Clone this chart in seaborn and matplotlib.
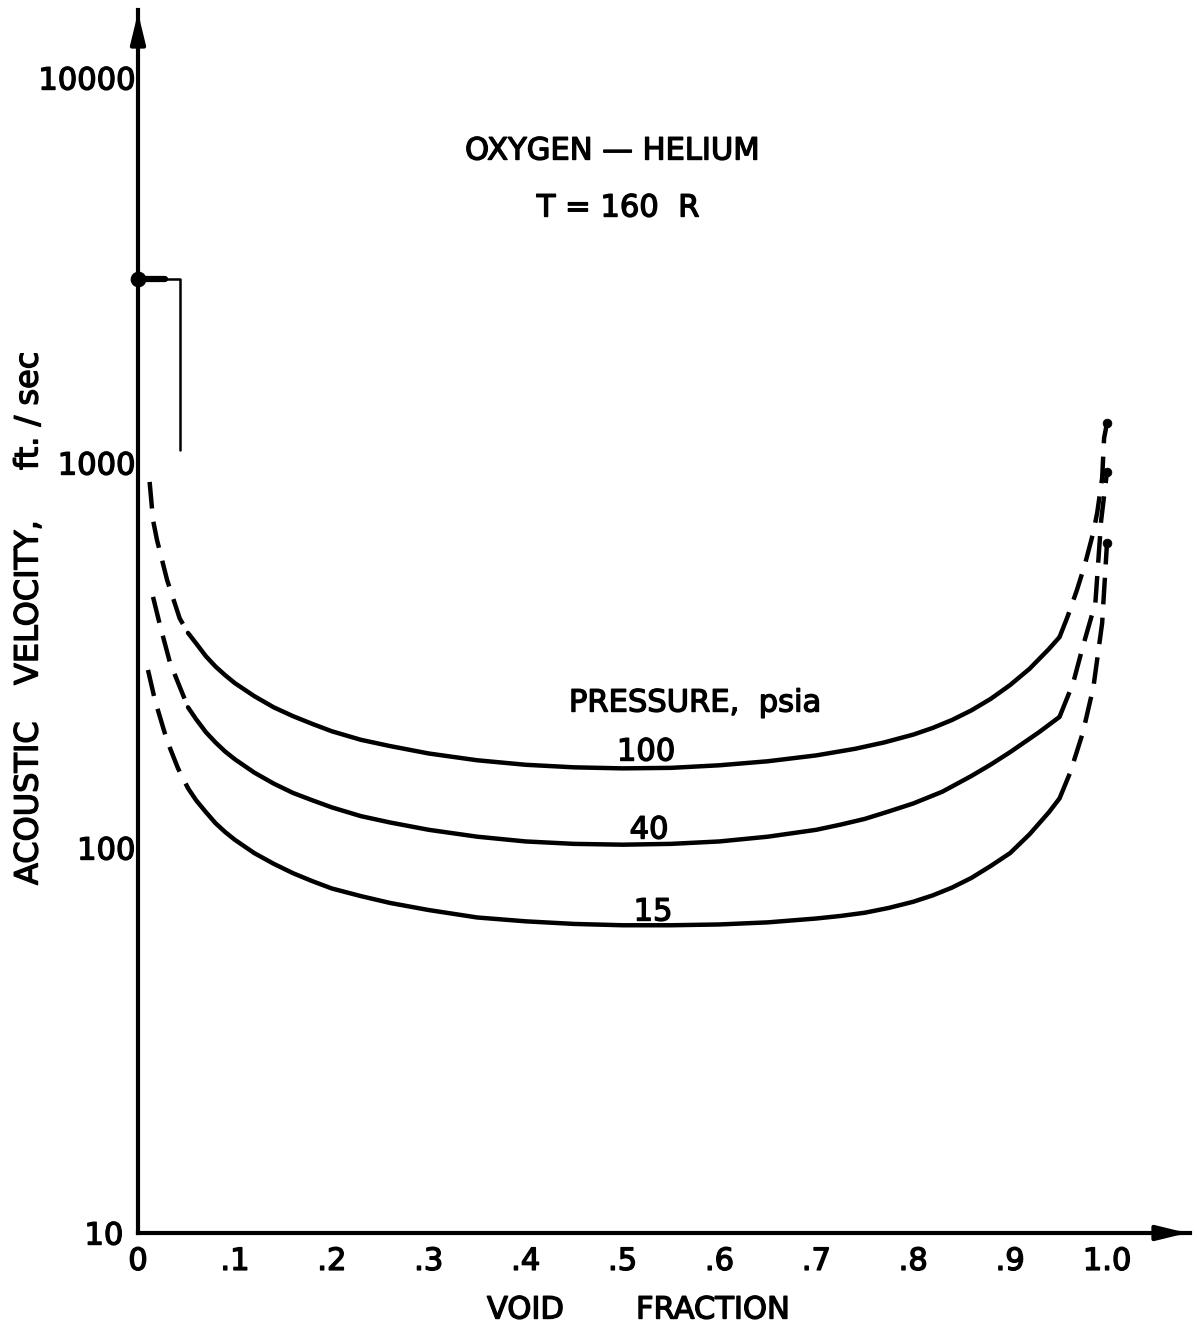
import numpy as np
import pandas as pd
import matplotlib
matplotlib.use("Agg")
import matplotlib.pyplot as plt
import matplotlib.transforms as mtransforms
import matplotlib.patheffects as pe
from matplotlib.ticker import LogLocator, NullFormatter, FixedLocator
import seaborn as sns

sns.set_style("white")
plt.rcParams["font.family"] = ["DejaVu Sans"]
plt.rcParams["text.color"] = "black"
plt.rcParams["xtick.color"] = "black"
plt.rcParams["ytick.color"] = "black"

# ---- data: acoustic velocity (ft/sec) vs void fraction, oxygen-helium, T = 160 R
pressures = ["100", "40", "15"]

void_100 = [0.012, 0.0155, 0.0196, 0.030, 0.043, 0.0516,
            0.06, 0.07, 0.08, 0.09, 0.10, 0.12, 0.14, 0.16, 0.18, 0.20, 0.23, 0.26,
            0.30, 0.35, 0.40, 0.45, 0.50, 0.55, 0.60, 0.65, 0.70, 0.74, 0.77, 0.80,
            0.82, 0.84, 0.86, 0.88, 0.90, 0.92, 0.94, 0.951,
            0.959, 0.969, 0.977, 0.986, 0.990, 0.995, 0.997, 1.0]
vel_100 = [893, 711, 631, 497, 395, 362,
           340, 315, 296, 281, 268, 248, 232, 220, 210, 201, 191, 184,
           176, 169, 164.5, 162, 161, 161.5, 164, 168, 174, 181, 188, 197,
           205, 215, 227.7, 244, 265, 292, 328.6, 353,
           397, 468, 543, 662, 746, 914, 1161, 1270]

void_40 = [0.0155, 0.0227, 0.033, 0.0464, 0.0516,
           0.06, 0.07, 0.08, 0.09, 0.10, 0.12, 0.14, 0.16, 0.18, 0.20, 0.23, 0.26,
           0.30, 0.35, 0.40, 0.45, 0.50, 0.55, 0.60, 0.65, 0.70, 0.725, 0.75, 0.775, 0.80,
           0.83, 0.86, 0.88, 0.90, 0.93, 0.951,
           0.965, 0.975, 0.988, 0.994, 1.0]
vel_40 = [449, 379, 303, 250, 232,
          216, 200, 188, 178, 170, 157, 147, 139, 133, 127.5, 121, 116.5,
          111.5, 107, 104, 102.5, 102, 102.5, 104, 107, 111.5, 115, 119, 124.5, 130.5,
          140, 153.8, 164.7, 177.4, 200, 219,
          268, 333, 433, 711, 948]

void_15 = [0.0103, 0.0175, 0.0258, 0.030, 0.0413, 0.0516,
           0.06, 0.07, 0.08, 0.09, 0.10, 0.12, 0.14, 0.16, 0.18, 0.20, 0.23, 0.26,
           0.30, 0.35, 0.40, 0.45, 0.50, 0.55, 0.60, 0.65, 0.70, 0.725, 0.75, 0.775, 0.80,
           0.82, 0.84, 0.86, 0.88, 0.90, 0.92, 0.94, 0.951,
           0.962, 0.975, 0.986, 0.995, 1.0]
vel_15 = [290, 242, 206, 190, 161, 143,
          133, 124, 116, 110, 105, 97, 91, 86, 82, 78.5, 75, 72,
          69, 66, 64.5, 63.5, 63, 63, 63.3, 64.1, 65.6, 66.6, 67.9, 69.9, 72.5,
          75.3, 78.9, 83.6, 89.8, 97, 108.5, 123.8, 134.5,
          157, 199, 262, 384, 620]

# end points of the curves at void fraction 1.0 (pure gas)
end_void = [1.0, 1.0, 1.0]
end_vel = [1270, 948, 620]

# liquid oxygen reference bracket
liquid_void = [0.0, 0.028]
liquid_vel = [3000, 3000]
bracket_void = [0.028, 0.043, 0.043]
bracket_vel = [3000, 3000, 1080]

xtick_vals = [0.0, 0.1, 0.2, 0.3, 0.4, 0.5, 0.6, 0.7, 0.8, 0.9, 1.0]
xtick_labels = ["0", ".1", ".2", ".3", ".4", ".5", ".6", ".7", ".8", ".9", "1.0"]
ytick_vals = [10, 100, 1000, 10000]
ytick_labels = ["10", "100", "1000", "10000"]

df = pd.concat([
    pd.DataFrame({"void": v, "velocity": c, "pressure": p})
    for p, v, c in [("100", void_100, vel_100), ("40", void_40, vel_40), ("15", void_15, vel_15)]
], ignore_index=True)

# ---- figure
W, H = 1198, 1327
fig = plt.figure(figsize=(W / 100, H / 100), dpi=100)
ax_left, ax_bottom = 138 / W, 1 - 1233 / H
ax_w, ax_h = (1190 - 138) / W, (1233 - 10) / H
ax = fig.add_axes([ax_left, ax_bottom, ax_w, ax_h])
ax.set_yscale("log")

LW = 3.2
DASH = (0, (6.0, 3.0))
SOLID_LO, SOLID_HI = 0.0516, 0.951

for p in pressures:
    sub = df[df["pressure"] == p]
    parts = [
        (sub[sub["void"] <= SOLID_LO], DASH),
        (sub[(sub["void"] >= SOLID_LO) & (sub["void"] <= SOLID_HI)], "-"),
        (sub[sub["void"] >= SOLID_HI], DASH),
    ]
    for seg, ls in parts:
        sns.lineplot(data=seg, x="void", y="velocity", ax=ax, color="black",
                     lw=LW, linestyle=ls, estimator=None, sort=True, legend=False)

sns.scatterplot(x=end_void, y=end_vel, ax=ax, color="black", s=40,
                edgecolor="black", legend=False, zorder=5, clip_on=False)

# liquid reference mark
sns.lineplot(x=liquid_void, y=liquid_vel, ax=ax, color="black", lw=4.5,
             estimator=None, legend=False)
sns.lineplot(x=bracket_void, y=bracket_vel, ax=ax, color="black", lw=1.8,
             estimator=None, sort=False, legend=False)
sns.scatterplot(x=[liquid_void[0]], y=[liquid_vel[0]], ax=ax, color="black", s=110,
                edgecolor="black", legend=False, zorder=6, clip_on=False)

# ---- axes
xmax = (1190 - 138) / 969.0
ymax = 10 ** (1 + (1233 - 10) / 385.0)
ax.set_xlim(0, xmax)
ax.set_ylim(10, ymax)

for s in ["top", "right"]:
    ax.spines[s].set_visible(False)
for s in ["left", "bottom"]:
    ax.spines[s].set_linewidth(3)
    ax.spines[s].set_color("black")

ax.xaxis.set_major_locator(FixedLocator(xtick_vals))
ax.set_xticklabels(xtick_labels)
ax.yaxis.set_major_locator(FixedLocator(ytick_vals))
ax.set_yticklabels(ytick_labels)
ax.yaxis.set_minor_locator(LogLocator(base=10, subs=range(2, 10)))
ax.yaxis.set_minor_formatter(NullFormatter())

ax.tick_params(axis="x", which="major", direction="in", length=12, width=2,
               pad=10, labelsize=22, color="black", labelcolor="black")
ax.tick_params(axis="y", which="major", direction="in", length=15, width=2.5,
               pad=2, labelsize=22, color="black", labelcolor="black")
ax.tick_params(axis="y", which="minor", direction="in", length=10, width=2,
               color="black")
ax.set_xlabel("")
ax.set_ylabel("")

# heavier lettering stroke
heavy = [pe.withStroke(linewidth=1.0, foreground="black")]
for lab in ax.get_xticklabels() + ax.get_yticklabels():
    lab.set_path_effects(heavy)

# the bottom "10" sits a little further out from the axis
lab10 = ax.get_yticklabels()[0]
lab10.set_transform(lab10.get_transform() +
                    mtransforms.ScaledTranslation(-12 / 100, 0, fig.dpi_scale_trans))

# axis arrows
ax.annotate("", xy=(0, 1), xytext=(0, 0.985), xycoords="axes fraction",
            arrowprops=dict(arrowstyle="-|>,head_length=0.9,head_width=0.22",
                            color="black", lw=3, mutation_scale=20))
ax.annotate("", xy=(1, 0), xytext=(0.985, 0), xycoords="axes fraction",
            arrowprops=dict(arrowstyle="-|>,head_length=0.9,head_width=0.22",
                            color="black", lw=3, mutation_scale=20))

# ---- text
def px(x, y):
    return x / W, 1 - y / H

fs = 22
tkw = dict(fontsize=fs, path_effects=heavy)
fig.text(*px(612, 151), "OXYGEN — HELIUM", ha="center", va="center", **tkw)
fig.text(*px(618, 208), "T = 160  R", ha="center", va="center", **tkw)
fig.text(*px(695, 703), "PRESSURE,  psia", ha="center", va="center", **tkw)
fig.text(*px(646, 752), "100", ha="center", va="center", **tkw)
fig.text(*px(649, 830), "40", ha="center", va="center", **tkw)
fig.text(*px(653, 912), "15", ha="center", va="center", **tkw)
fig.text(*px(487, 1310), "VOID", ha="left", va="center", **tkw)
fig.text(*px(636, 1310), "FRACTION", ha="left", va="center", **tkw)
ykw = dict(fontsize=23, path_effects=heavy, ha="center", va="bottom", rotation=90)
fig.text(*px(29, 885), "ACOUSTIC", **ykw)
fig.text(*px(29, 685), "VELOCITY,", **ykw)
fig.text(*px(29, 470), "ft. / sec", **ykw)

fig.savefig("out.png", dpi=100, facecolor="white")
